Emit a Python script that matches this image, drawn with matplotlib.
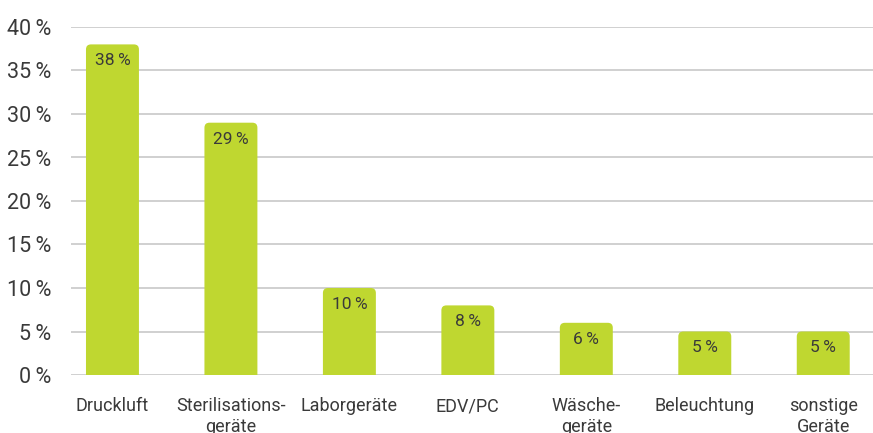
import matplotlib
matplotlib.use("Agg")
import matplotlib.pyplot as plt
from matplotlib.patches import FancyBboxPatch

# values
categories = ["Druckluft", "Sterilisations-\ngeräte", "Laborgeräte", "EDV/PC",
              "Wäsche-\ngeräte", "Beleuchtung", "sonstige\nGeräte"]
shares = [38, 29, 10, 8, 6, 5, 5]
yticks = [0, 5, 10, 15, 20, 25, 30, 35, 40]

green = "#bfd730"
textcol = "#3a3a3a"
gridcol = "#c8c8c8"

plt.rcParams["font.family"] = ["Roboto", "DejaVu Sans"]

fig = plt.figure(figsize=(8.73, 4.33), dpi=100)
ax = fig.add_axes([71 / 873, 1 - 375 / 433, 1 - 71 / 873, (375 - 27) / 433])

ax.set_xlim(-0.35, 6.42)
ax.set_ylim(0, 40)

# rounded-top bars (bottom extends below 0 and is clipped)
px_x = (873 - 71) / (6.42 + 0.35)
px_y = 348 / 40
width = 0.447
r = 5 / px_x
asp = px_x / px_y
for i, v in enumerate(shares):
    p = FancyBboxPatch((i - width / 2 + r, -2 + r * asp), width - 2 * r,
                       v + 2 - 2 * r * asp,
                       boxstyle=f"round,pad={r},rounding_size={r}",
                       mutation_aspect=asp,
                       facecolor=green, edgecolor="none", zorder=3)
    ax.add_patch(p)
    ax.annotate(f"{v}\u2009%", (i, v), xytext=(0, -9), textcoords="offset pixels",
                ha="center", va="top", fontsize=12.5, color=textcol, zorder=4)

ax.set_yticks(yticks)
ax.set_yticklabels([f"{t}\u2009%" for t in yticks], fontsize=15.5,
                   color=textcol)
ax.set_xticks(range(len(categories)))
ax.set_xticklabels(categories, fontsize=13, color=textcol,
                   linespacing=1.2)
ax.tick_params(axis="y", length=0, pad=14)
ax.tick_params(axis="x", length=0, pad=16)

ax.grid(axis="y", color=gridcol, linewidth=1.2, zorder=0)
ax.set_axisbelow(True)
for s in ax.spines.values():
    s.set_visible(False)

fig.savefig("out.png", dpi=100)
